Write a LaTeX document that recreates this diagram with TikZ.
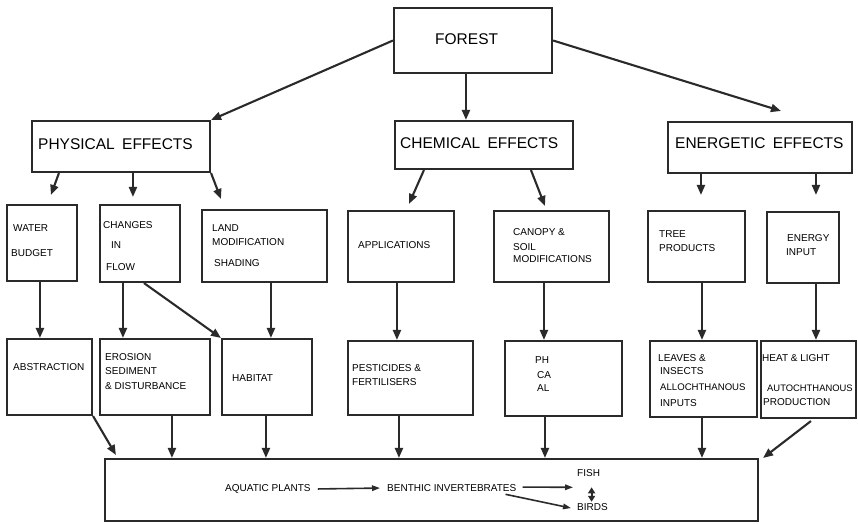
\documentclass[tikz,border=0pt]{standalone}
\usepackage{fontspec}
\setmainfont{Liberation Sans}
\usetikzlibrary{calc,arrows.meta}
\definecolor{ink}{HTML}{2A2A2A}
\tikzset{
  box/.style={draw=ink, line width=2.1pt, inner sep=0pt},
  arr/.style={draw=ink, line width=2.1pt, -{Triangle[length=10pt,width=8pt]}},
  thinarr/.style={draw=ink, line width=1.6pt, -{Triangle[length=8pt,width=5.5pt]}},
  sm/.style={anchor=base west, inner sep=0pt, text=black, font=\fontsize{10}{12}\selectfont},
  big/.style={anchor=base west, inner sep=0pt, text=black, font=\fontsize{15.5}{18}\selectfont},
}
\newcommand\mkbox[5]{\node[box, minimum width={#4-#2}, minimum height={#5-#3}] (#1) at ({(#2+#4)/2},{(#3+#5)/2}) {};}
\begin{document}
\begin{tikzpicture}[x=1pt,y=-1pt]
\useasboundingbox (0,0) rectangle (858,523);
% top
\mkbox{forest}{394}{8}{552}{73}
\mkbox{phys}{32}{121}{210}{172}
\mkbox{chem}{395}{121}{573}{169}
\mkbox{energ}{668}{122}{852}{173}
% row 2
\mkbox{water}{7}{205}{77}{281}
\mkbox{changes}{100}{205}{180}{282}
\mkbox{land}{202}{210}{327}{282}
\mkbox{appl}{348}{211}{454}{282}
\mkbox{canopy}{494}{211}{609}{282}
\mkbox{tree}{648}{211}{745}{282}
\mkbox{energy}{767}{212}{839}{283}
% row 3
\mkbox{abstr}{7}{339}{92}{415}
\mkbox{erosion}{100}{339}{210}{415}
\mkbox{habitat}{222}{339}{312}{415}
\mkbox{pest}{348}{341}{473}{415}
\mkbox{ph}{505}{341}{622}{416}
\mkbox{leaves}{650}{341}{757}{417}
\mkbox{heat}{761}{341}{856}{418}
% bottom
\mkbox{bottom}{105}{459}{758}{521}

% texts
\node[big] (tforest) at (435,44.5) {FOREST};
\node[big] (tphys) at (38,149) {PHYSICAL\hspace{3pt} EFFECTS};
\node[big] (tchem) at (400,148.5) {CHEMICAL\hspace{3pt} EFFECTS};
\node[big] (tenerg) at (675,148.5) {ENERGETIC\hspace{3pt} EFFECTS};

\node[sm] (t1) at (13,231.5) {WATER};
\node[sm] (t2) at (11,256.5) {BUDGET};
\node[sm] (t3) at (103,228.5) {CHANGES};
\node[sm] (t4) at (111,248.5) {IN};
\node[sm] (t5) at (106,270.5) {FLOW};
\node[sm] (t6) at (212,231.5) {LAND};
\node[sm] (t7) at (212,245.5) {MODIFICATION};
\node[sm] (t8) at (214,266.5) {SHADING};
\node[sm] (t9) at (358,248.5) {APPLICATIONS};
\node[sm] (t10) at (513,235.5) {CANOPY \&};
\node[sm] (t11) at (513,250.5) {SOIL};
\node[sm] (t12) at (513,262.5) {MODIFICATIONS};
\node[sm] (t13) at (659,237.5) {TREE};
\node[sm] (t14) at (659,251.5) {PRODUCTS};
\node[sm] (t15) at (787,241.5) {ENERGY};
\node[sm] (t16) at (786,255.5) {INPUT};

\node[sm] (t17) at (13,370) {ABSTRACTION};
\node[sm] (t18) at (105,360.5) {EROSION};
\node[sm] (t19) at (105,374.5) {SEDIMENT};
\node[sm] (t20) at (105,389.5) {\& DISTURBANCE};
\node[sm] (t21) at (232,381.5) {HABITAT};
\node[sm] (t22) at (352,371.5) {PESTICIDES \&};
\node[sm] (t23) at (352,385.5) {FERTILISERS};
\node[sm] (t24) at (535,363.5) {PH};
\node[sm] (t25) at (537,378.5) {CA};
\node[sm] (t26) at (537,391.5) {AL};
\node[sm] (t27) at (658,361.5) {LEAVES \&};
\node[sm] (t28) at (660,374.5) {INSECTS};
\node[sm, font=\fontsize{9.6}{11}\selectfont] (t29) at (660,390.5) {ALLOCHTHANOUS};
\node[sm] (t30) at (660,406.5) {INPUTS};
\node[sm] (t31) at (762,361.5) {HEAT \& LIGHT};
\node[sm, font=\fontsize{9.4}{11}\selectfont] (t32) at (767,391.5) {AUTOCHTHANOUS};
\node[sm] (t33) at (763,405.5) {PRODUCTION};

\node[sm] (aq) at (225,491.5) {AQUATIC PLANTS};
\node[sm] (benth) at (387,491.5) {BENTHIC INVERTEBRATES};
\node[sm] (fish) at (577,476.5) {FISH};
\node[sm] (birds) at (577,510.5) {BIRDS};
\coordinate (fbtop) at ($(fish.south)+(3,10.5)$);
\coordinate (fbbot) at ($(fish.south)+(3,25)$);

% connectors top
\draw[arr] (forest.west) -- (phys.north east);
\draw[arr] ($(forest.south west)+(73,0)$) -- ($(chem.north west)+(72,0)$);
\draw[arr] (forest.east) -- ($(energ.north west)+(114,-10)$);
% top -> row 2
\draw[arr] ($(phys.south west)+(28,0)$) -- ($(water.north west)+(45,-9)$);
\draw[arr] ($(phys.south west)+(102,0)$) -- ($(changes.north west)+(34,-7)$);
\draw[arr] (phys.south east) -- ($(land.north west)+(20,-10)$);
\draw[arr] ($(chem.south west)+(30,0)$) -- ($(appl.north west)+(62,-6)$);
\draw[arr] ($(chem.south west)+(137,0)$) -- ($(canopy.north west)+(52,-4)$);
\draw[arr] ($(energ.south west)+(34,0)$) -- ($(tree.north west)+(54,-15)$);
\draw[arr] ($(energ.south west)+(149,0)$) -- ($(energy.north west)+(50,-16)$);
% row 2 -> row 3
\draw[arr] ($(water.south west)+(34,0)$) -- ($(abstr.north west)+(34,0)$);
\draw[arr] ($(changes.south west)+(24,0)$) -- ($(erosion.north west)+(24,0)$);
\draw[arr] ($(changes.south west)+(45,0)$) -- (habitat.north west);
\draw[arr] ($(land.south west)+(70,0)$) -- ($(habitat.north west)+(50,0)$);
\draw[arr] ($(appl.south west)+(50,0)$) -- ($(pest.north west)+(50,0)$);
\draw[arr] ($(canopy.south west)+(51,0)$) -- ($(ph.north west)+(40,0)$);
\draw[arr] ($(tree.south west)+(55,0)$) -- ($(leaves.north west)+(53,0)$);
\draw[arr] ($(energy.south west)+(50,0)$) -- ($(heat.north west)+(56,0)$);
% row 3 -> bottom
\draw[arr] (abstr.south east) -- ($(bottom.north west)+(12,-3)$);
\draw[arr] ($(erosion.south west)+(73,0)$) -- ($(bottom.north west)+(68,0)$);
\draw[arr] ($(habitat.south west)+(45,0)$) -- ($(bottom.north west)+(162,0)$);
\draw[arr] ($(pest.south west)+(52,0)$) -- ($(bottom.north west)+(295,0)$);
\draw[arr] ($(ph.south west)+(41,0)$) -- ($(bottom.north west)+(441,0)$);
\draw[arr] ($(leaves.south west)+(53,0)$) -- ($(bottom.north west)+(598,0)$);
\draw[arr] ($(heat.south west)+(51,2)$) -- ($(bottom.north east)+(4,0)$);
% inside bottom
\draw[thinarr] ($(aq.east)+(7,0)$) -- ($(benth.west)+(-7,0)$);
\draw[thinarr] ($(benth.east)+(6,-1)$) -- ($(fish.south west)+(-4,10.5)$);
\draw[thinarr] ($(benth.south east)+(-11,2.5)$) -- ($(birds.west)+(-6,1)$);
\draw[draw=ink, line width=2pt, {Triangle[length=6pt,width=7pt]}-{Triangle[length=6pt,width=7pt]}] (fbtop) -- (fbbot);
\end{tikzpicture}
\end{document}
